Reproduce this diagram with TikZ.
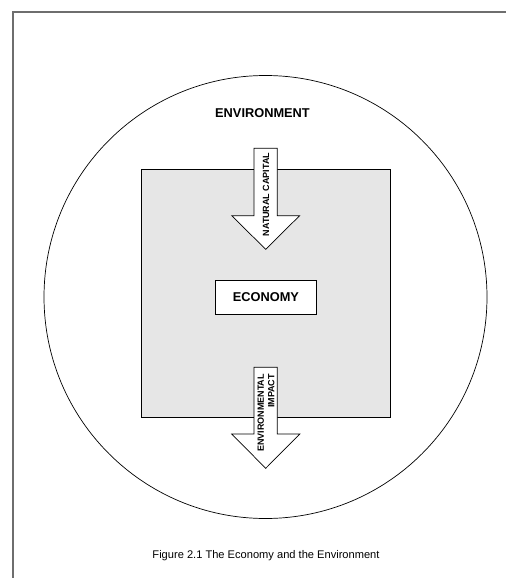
\documentclass[tikz,border=0pt]{standalone}
\usepackage{fontspec}
\setmainfont{Liberation Sans}
\definecolor{econgray}{HTML}{E6E6E6}
\definecolor{framegray}{HTML}{6E6E6E}
\begin{document}
\begin{tikzpicture}[x=1pt,y=-1pt,
  frameline/.style={draw=framegray, line width=1.2pt},
  thinline/.style={draw=black, line width=0.7pt},
  flowarrow/.style={thinline, fill=white},
  titletext/.style={font=\bfseries\fontsize{12.8}{15}\selectfont, inner sep=0pt},
  arrowtext/.style={font=\bfseries\fontsize{9}{10.6}\selectfont, rotate=90, inner sep=0pt, align=right},
  captiontext/.style={font=\fontsize{11.1}{13}\selectfont, inner sep=0pt}]
\useasboundingbox (0,0) rectangle (506,578);
% page frame
\coordinate (fbl) at (13,578);
\coordinate (ftl) at (13,12);
\coordinate (ftr) at (506,12);
\draw[frameline] (fbl) -- (ftl) -- (ftr);
% environment circle
\node[thinline, circle, minimum size=443pt, inner sep=0pt] (envcircle) at (265.5,297) {};
% economy area
\node[thinline, fill=econgray, minimum width=248.3pt, minimum height=248.5pt, inner sep=0pt] (econarea) at (265.9,293.25) {};
\node[thinline, fill=white, minimum width=101.7pt, minimum height=33.3pt, inner sep=0pt, font=\bfseries\fontsize{12.8}{15}\selectfont] (economy) at (265.9,297.3) {ECONOMY};
% natural capital arrow
\draw[flowarrow] (254,148.3) -- (277.3,148.3) -- (277.3,215.7) -- (299.6,215.7) -- (265.7,249.3) -- (231.7,215.7) -- (254,215.7) -- cycle;
% environmental impact arrow
\draw[flowarrow] (254,367.3) -- (277.3,367.3) -- (277.3,434) -- (299.8,434) -- (265.7,468.3) -- (231.7,434) -- (254,434) -- cycle;
% texts
\node[titletext] (envtitle) at (262.5,112.7) {ENVIRONMENT};
\node[arrowtext] (natcap) at (266,194.5) {NATURAL CAPITAL};
\node[arrowtext] (envimpact) at (266,413) {ENVIRONMENTAL\\IMPACT};
\node[captiontext] (caption) at (266,556) {Figure 2.1 The Economy and the Environment};
\end{tikzpicture}
\end{document}
